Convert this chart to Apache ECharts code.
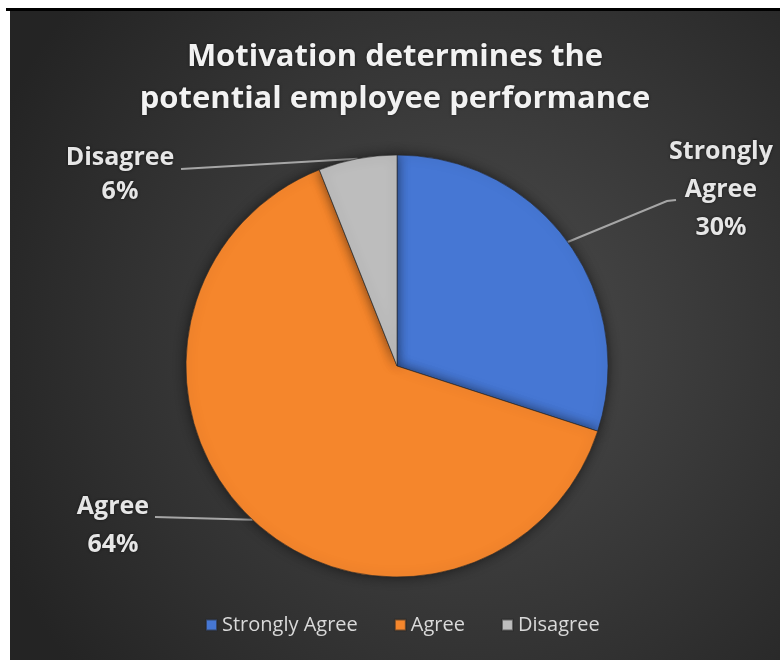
<!DOCTYPE html>
<html>
<head>
<meta charset="utf-8">
<script src="https://cdn.jsdelivr.net/npm/echarts@6/dist/echarts.min.js"></script>
<style>
  html, body { margin: 0; padding: 0; background: #ffffff; width: 780px; height: 660px; overflow: hidden; }
  #topline { position: absolute; left: 6px; top: 8px; width: 774px; height: 3px; background: #000; }
  #main { position: absolute; left: 10px; top: 11px; width: 770px; height: 649px; }
</style>
</head>
<body>
<div id="topline"></div>
<div id="main"></div>
<script>
  // chart data
  const categories = ['Strongly Agree', 'Agree', 'Disagree'];
  const labelNames = ['Strongly\nAgree', 'Agree', 'Disagree'];
  const shares = [30, 64, 6];
  const sliceColors = ['#4677d4', '#f5862c', '#bdbdbd'];

  // label block anchors (chart coords) and leader line ends
  const OFF_X = 10, OFF_Y = 11;
  const labelPos = [
    {x: 721 - OFF_X, y: 133 - OFF_Y, line: [[667 - OFF_X, 201 - OFF_Y], [676 - OFF_X, 200 - OFF_Y]]},
    {x: 113 - OFF_X, y: 488 - OFF_Y, line: [[155 - OFF_X, 517 - OFF_Y], [155 - OFF_X, 517 - OFF_Y]]},
    {x: 120 - OFF_X, y: 141 - OFF_Y, line: [[181 - OFF_X, 169 - OFF_Y], [181 - OFF_X, 169 - OFF_Y]]}
  ];

  let myChart = echarts.init(document.getElementById('main'));
  myChart.setOption({
    backgroundColor: {
      type: 'radial', x: 0.6, y: 0.5, r: 0.8,
      colorStops: [
        {offset: 0, color: '#4c4c4c'},
        {offset: 1, color: '#242424'}
      ]
    },
    title: {
      text: 'Motivation determines the\npotential employee performance',
      left: 'center',
      top: 20,
      textStyle: {
        color: '#f2f2f2',
        fontFamily: 'Open Sans',
        fontWeight: 'bold',
        fontSize: 31,
        lineHeight: 42,
        textShadowColor: 'rgba(0,0,0,0.5)',
        textShadowBlur: 3
      }
    },
    legend: {
      data: categories,
      bottom: 20,
      left: 190,
      icon: 'rect',
      itemWidth: 11,
      itemHeight: 11,
      itemGap: 36,
      textStyle: {
        color: '#d9d9d9',
        fontFamily: 'Open Sans',
        fontSize: 20
      }
    },
    series: [{
      type: 'pie',
      center: [387, 355],
      radius: 211,
      startAngle: 90,
      avoidLabelOverlap: false,
      itemStyle: {
        borderColor: 'rgba(40,40,40,0.6)',
        borderWidth: 1,
        shadowBlur: 12,
        shadowColor: 'rgba(0,0,0,0.55)'
      },
      label: {
        color: '#e6e6e6',
        fontFamily: 'Open Sans',
        fontWeight: 'bold',
        fontSize: 25,
        lineHeight: 38,
        textShadowColor: 'rgba(0,0,0,0.6)',
        textShadowBlur: 3,
        formatter: function (p) {
          return labelNames[p.dataIndex] + '\n' + p.value + '%';
        }
      },
      labelLine: {
        show: true,
        lineStyle: {color: '#a6a6a6', width: 2}
      },
      labelLayout: function (params) {
        const pos = labelPos[params.dataIndex];
        const edge = params.labelLinePoints ? params.labelLinePoints[0] : pos.line[0];
        return {
          x: pos.x,
          y: pos.y,
          align: 'center',
          verticalAlign: 'top',
          labelLinePoints: [edge, pos.line[0], pos.line[1]]
        };
      },
      data: categories.map(function (name, i) {
        let item = {
          name: name,
          value: shares[i],
          itemStyle: {color: sliceColors[i]}
        };
        if (i === 2) {
          item.label = {lineHeight: 34};
        }
        return item;
      })
    }]
  });
</script>
</body>
</html>
